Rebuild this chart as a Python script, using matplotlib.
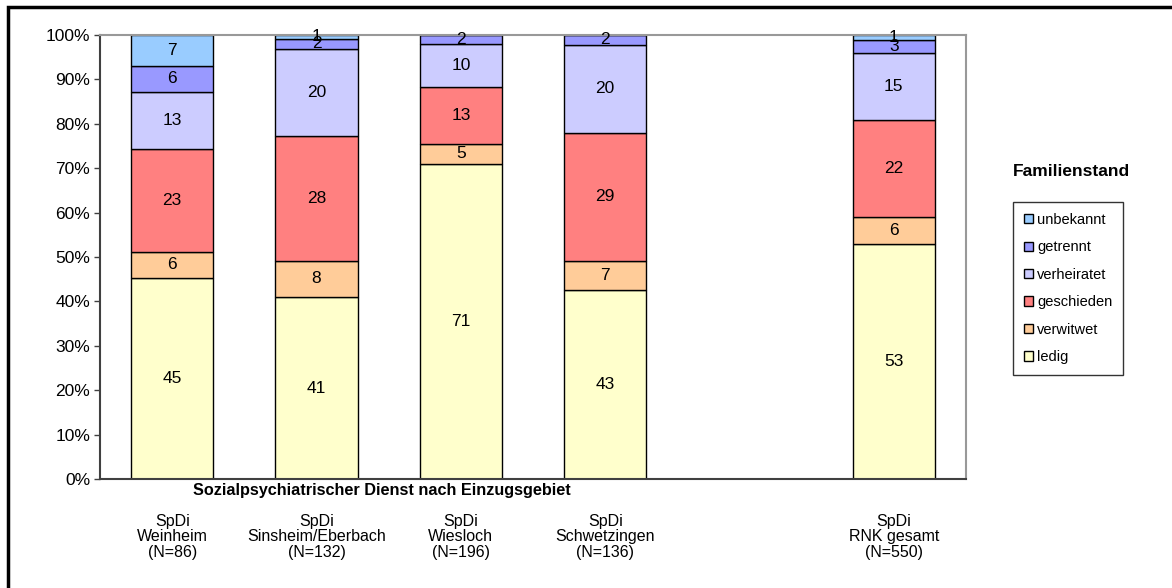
import matplotlib
matplotlib.use("Agg")
import matplotlib.pyplot as plt
import matplotlib.patches as mpatches
import numpy as np

plt.rcParams['font.family'] = ['Liberation Sans', 'DejaVu Sans']

# categories (slot 4 stays empty, like in the original)
groups = ['SpDi\nWeinheim\n(N=86)', 'SpDi\nSinsheim/Eberbach\n(N=132)', 'SpDi\nWiesloch\n(N=196)',
          'SpDi\nSchwetzingen\n(N=136)', 'SpDi\nRNK gesamt\n(N=550)']
slots = [0, 1, 2, 3, 5]

status = ['ledig', 'verwitwet', 'geschieden', 'verheiratet', 'getrennt', 'unbekannt']
colors = ['#FFFFCC', '#FFCC99', '#FF8080', '#CCCCFF', '#9999FF', '#99CCFF']

# percent per group
ledig       = [45.3, 40.9, 70.9, 42.6, 52.9]
verwitwet   = [5.8, 8.3, 4.6, 6.6, 6.0]
geschieden  = [23.3, 28.0, 12.8, 28.7, 22.0]
verheiratet = [12.8, 19.7, 9.7, 19.9, 15.1]
getrennt    = [5.8, 2.3, 2.0, 2.2, 2.9]
unbekannt   = [7.0, 0.8, 0.0, 0.0, 1.1]
series = [ledig, verwitwet, geschieden, verheiratet, getrennt, unbekannt]

fig = plt.figure(figsize=(11.72, 5.88), dpi=100)
ax = fig.add_axes([100/1172, 1-479/588, 866/1172, 444/588])

bottom = np.zeros(len(slots))
bars = []
for vals, col, name in zip(series, colors, status):
    vals = np.array(vals)
    b = ax.bar(slots, vals, width=0.57, bottom=bottom, color=col,
               edgecolor='black', linewidth=1, label=name)
    bars.append(b)
    for x, v, y0 in zip(slots, vals, bottom):
        if v > 0:
            ax.text(x, y0 + v/2, '%d' % round(v), ha='center', va='center', fontsize=12.5)
    bottom += vals

ax.set_xlim(-0.5, 5.5)
ax.set_ylim(0, 100)
ax.set_yticks(np.arange(0, 101, 10))
ax.set_yticklabels(['%d%%' % t for t in range(0, 101, 10)], fontsize=12.5)
ax.set_xticks(slots)
ax.set_xticklabels(groups, fontsize=11.5, linespacing=1.05)
ax.tick_params(axis='x', length=0, pad=25)
ax.tick_params(axis='y', length=4, width=1, color='#404040', pad=3)

for s in ['top', 'right']:
    ax.spines[s].set_color('#999999')
    ax.spines[s].set_linewidth(1.5)
for s in ['left', 'bottom']:
    ax.spines[s].set_color('#404040')
    ax.spines[s].set_linewidth(1.5)

fig.text(193/1172, 1-490/588, 'Sozialpsychiatrischer Dienst nach Einzugsgebiet',
         ha='left', va='center', fontsize=11.7, fontweight='bold')

# legend, unbekannt on top
leg = ax.legend(bars[::-1], status[::-1], loc='upper left',
                bbox_to_anchor=(1013/1172, 1-202/588), bbox_transform=fig.transFigure,
                borderaxespad=0, fontsize=10.5, frameon=True, fancybox=False,
                handlelength=0.6, handleheight=0.6, handletextpad=0.3,
                labelspacing=0.92, borderpad=0.75)
leg.get_frame().set_edgecolor('black')
leg.get_frame().set_linewidth(1)
fig.text(1071/1172, 1-172/588, 'Familienstand', ha='center', va='center',
         fontsize=12.5, fontweight='bold')

# outer frame (cropped at right and bottom)
fig.patches.append(mpatches.Rectangle((8/1172, -0.1), 1.2, 1.1 - 7/588, fill=False,
                                      edgecolor='black', linewidth=2.5,
                                      transform=fig.transFigure, clip_on=False))

fig.savefig('out.png', dpi=100)
